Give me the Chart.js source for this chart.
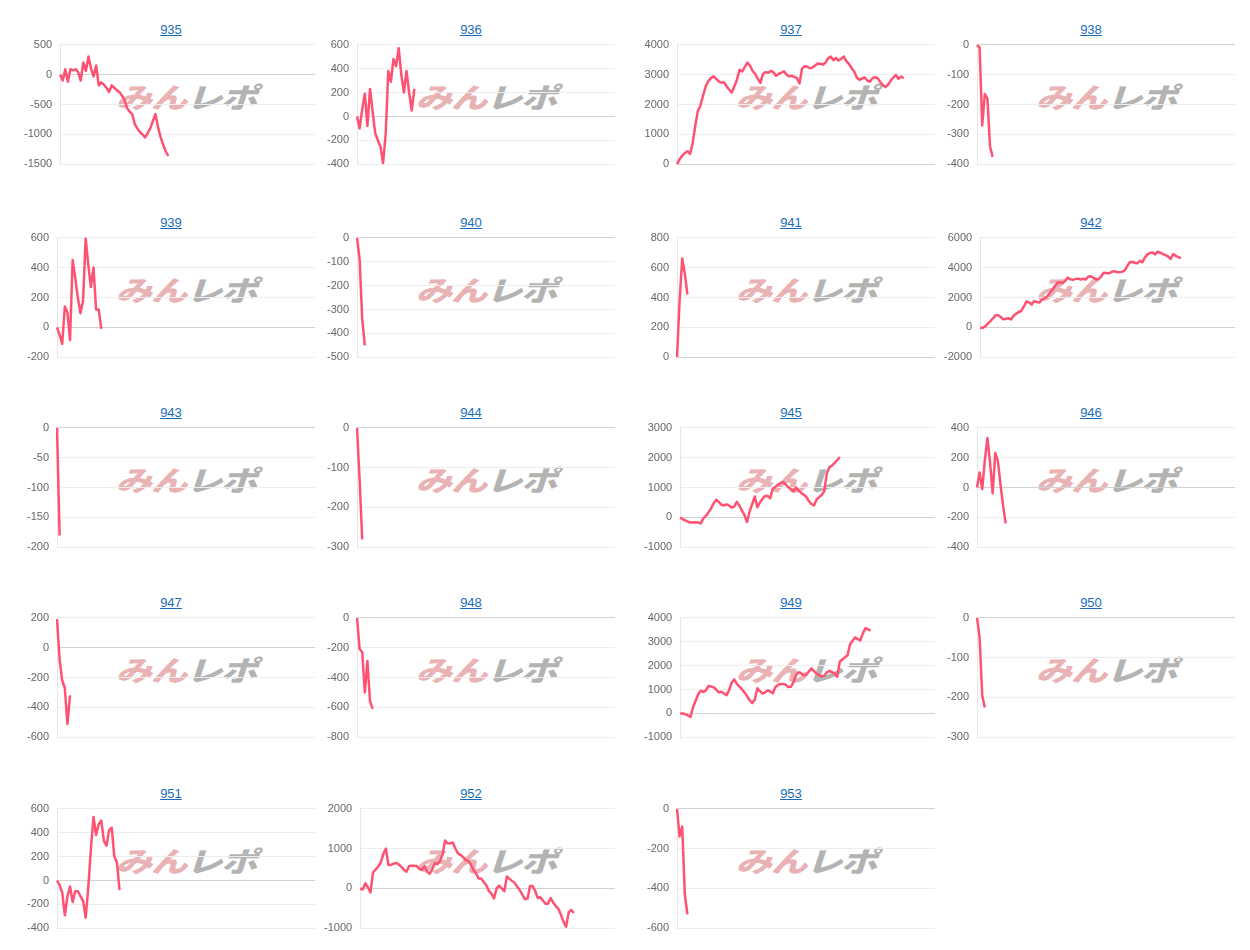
<!DOCTYPE html>
<html>
<head>
<meta charset="utf-8">
<script src="https://cdn.jsdelivr.net/npm/chart.js@4.4.1/dist/chart.umd.min.js"></script>
<style>
  html, body { margin: 0; padding: 0; background: #fff; }
  #board { position: relative; width: 1250px; height: 950px; overflow: hidden; }
  .panel-title { position: absolute; width: 120px; text-align: center; font: 13px "Liberation Sans", Arial, sans-serif; line-height: 15px; }
  .panel-title a { color: #1a6dbd; text-decoration: underline; }
  .mark { position: absolute; width: 160px; height: 30px; margin-left: -80px; margin-top: -15px; text-align: center;
          font: italic 900 28px "Noto Sans CJK JP", sans-serif; line-height: 30px; white-space: nowrap;
          transform: scaleX(1.3); letter-spacing: -1px; }
  .mark .a { color: #e9b2b4; }
  .mark .b { color: #b3b3b3; }
  canvas { position: absolute; }
</style>
</head>
<body>
<div id="board"></div>
<script>
const machineNumbers = ['935', '936', '937', '938', '939', '940', '941', '942', '943', '944',
                        '945', '946', '947', '948', '949', '950', '951', '952', '953'];

const m935 = [0, -100, 90, -120, 90, 70, 90, 40, -100, 200, 60, 300, 100, -30, 150, -180, -130, -170, -220, -290,
              -180, -220, -260, -290, -350, -420, -560, -620, -660, -830, -900, -960, -1000, -1050, -980, -900, -780, -660, -870, -1040,
              -1170, -1280, -1360];
const m936 = [0, -100, 60, 190, -80, 230, 40, -140, -200, -250, -390, -150, 380, 290, 480, 420, 570, 350, 200, 380, 200, 50, 230];
const m937 = [0, 170, 290, 380, 440, 350, 700, 1290, 1780, 1970, 2300, 2600, 2780, 2880, 2940, 2860, 2770, 2730, 2740, 2620,
              2500, 2400, 2600, 2830, 3160, 3100, 3250, 3400, 3300, 3120, 3020, 2860, 2720, 3020, 3080, 3060, 3120, 3080, 2960, 3020,
              3060, 3110, 3000, 2940, 2960, 2920, 2880, 2700, 3200, 3280, 3260, 3210, 3240, 3300, 3370, 3360, 3330, 3400, 3550, 3600,
              3480, 3550, 3470, 3530, 3600, 3450, 3350, 3220, 3100, 2900, 2820, 2870, 2900, 2800, 2760, 2880, 2910, 2880, 2750, 2650,
              2580, 2660, 2800, 2900, 2990, 2860, 2930, 2880];
const m938 = [0, -10, -270, -165, -180, -340, -375];
const m939 = [0, -50, -110, 140, 100, -85, 450, 330, 200, 95, 180, 595, 420, 270, 400, 120, 120, -10];
const m940 = [0, -90, -340, -450];
const m941 = [0, 380, 660, 560, 420];
const m942 = [0, -40, 80, 250, 420, 600, 820, 820, 700, 540, 580, 620, 530, 780, 920, 1030, 1100, 1400, 1740, 1660,
              1540, 1760, 1700, 1660, 1850, 1950, 2050, 2280, 2500, 2750, 2980, 3020, 2950, 3110, 3330, 3220, 3180, 3230, 3260, 3200,
              3250, 3200, 3400, 3420, 3330, 3200, 3230, 3400, 3650, 3640, 3610, 3700, 3760, 3700, 3680, 3710, 3780, 4050, 4340, 4390,
              4320, 4280, 4450, 4350, 4680, 4880, 4980, 5000, 4880, 5060, 4990, 4900, 4830, 4740, 4580, 4900, 4780, 4700, 4630];
const m943 = [0, -180];
const m944 = [0, -130, -280];
const m945 = [0, -60, -100, -140, -170, -170, -160, -170, -200, -30, 50, 170, 300, 470, 590, 520, 430, 400, 440, 400,
              330, 360, 520, 400, 230, 80, -150, 200, 450, 700, 340, 500, 620, 720, 720, 640, 960, 1020, 1100, 1150,
              1180, 1100, 1010, 950, 870, 1000, 900, 820, 760, 690, 550, 450, 400, 600, 680, 750, 880, 1480, 1680, 1730,
              1820, 1910, 2020];
const m946 = [0, 100, -10, 180, 330, 170, -40, 230, 180, 20, -120, -240];
const m947 = [190, -80, -220, -270, -510, -320];
const m948 = [0, -210, -230, -500, -290, -560, -610];
const m949 = [0, 0, -30, -80, -150, 250, 530, 800, 950, 900, 960, 1150, 1130, 1090, 1000, 880, 910, 830, 760, 960,
              1280, 1420, 1240, 1120, 1010, 880, 720, 550, 430, 580, 1050, 930, 830, 880, 960, 920, 840, 1100, 1190, 1230,
              1230, 1200, 1100, 1110, 1300, 1600, 1720, 1680, 1590, 1620, 1750, 1880, 1770, 1660, 1590, 1540, 1580, 1720, 1780, 1720,
              1670, 1530, 2160, 2250, 2340, 2430, 2890, 3030, 3180, 3100, 3050, 3350, 3560, 3510, 3460];
const m950 = [0, -50, -195, -225];
const m951 = [0, -40, -100, -290, -130, -50, -180, -90, -90, -130, -170, -310, -60, 260, 530, 380, 470, 500, 330, 290,
              420, 440, 200, 150, -80];
const m952 = [0, -25, 130, 30, -100, 400, 470, 550, 650, 860, 1000, 590, 590, 620, 640, 600, 540, 470, 420, 560,
              570, 570, 560, 490, 470, 560, 420, 370, 480, 630, 610, 680, 850, 1200, 1130, 1130, 1150, 1000, 880, 840,
              790, 710, 690, 600, 470, 380, 250, 250, 160, 80, -60, -130, -250, 0, 70, 0, -70, 300, 240, 190,
              140, 45, -40, -150, -270, -255, 60, 60, -60, -240, -220, -300, -380, -380, -240, -350, -440, -510, -660, -830,
              -960, -600, -540, -615];
const m953 = [0, -140, -90, -430, -530];

const yMin  = [-1500, -400, 0, -400, -200, -500, 0, -2000, -200, -300, -1000, -400, -600, -800, -1000, -300, -400, -1000, -600];
const yMax  = [500, 600, 4000, 0, 600, 0, 800, 6000, 0, 0, 3000, 400, 200, 0, 4000, 0, 600, 2000, 0];
const yStep = [500, 200, 1000, 100, 200, 100, 200, 2000, 50, 100, 1000, 200, 200, 200, 1000, 100, 200, 1000, 200];

// x axis: fixed number of slots, series only fill part of it
const xLabels = Array.from({ length: 100 }, (_, i) => String(i + 1));

const series = [m935, m936, m937, m938, m939, m940, m941, m942, m943, m944,
                m945, m946, m947, m948, m949, m950, m951, m952, m953];

const colLeft = [15, 315, 635, 935];
const rowPlotTop = [44, 237, 427, 617, 808];
const lineColor = '#ff5272';
const tickFont = { size: 11, family: '"Liberation Sans", Arial, sans-serif' };

const board = document.getElementById('board');

machineNumbers.forEach((num, i) => {
    const col = i % 4;
    const row = Math.floor(i / 4);
    const left = colLeft[col];
    const top = rowPlotTop[row];

    const title = document.createElement('div');
    title.className = 'panel-title';
    title.style.left = (left + 156 - 60) + 'px';
    title.style.top = (top - 22) + 'px';
    title.innerHTML = '<a href="#">' + num + '</a>';
    board.appendChild(title);

    const mark = document.createElement('div');
    mark.className = 'mark';
    mark.style.left = (left + 171) + 'px';
    mark.style.top = (top + 52) + 'px';
    mark.innerHTML = '<span class="a">みん</span><span class="b">レポ</span>';
    board.appendChild(mark);

    const canvas = document.createElement('canvas');
    canvas.width = 304;
    canvas.height = 149;
    canvas.style.left = left + 'px';
    canvas.style.top = (top - 14) + 'px';
    board.appendChild(canvas);

    new Chart(canvas, {
        type: 'line',
        data: {
            labels: xLabels,
            datasets: [{
                data: series[i],
                borderColor: lineColor,
                borderWidth: 2.5,
                borderJoinStyle: 'round',
                pointRadius: 0,
                tension: 0,
                fill: false
            }]
        },
        options: {
            responsive: false,
            animation: false,
            events: [],
            layout: { padding: { top: 12, bottom: 12, left: 0, right: 4 } },
            plugins: { legend: { display: false }, title: { display: false }, tooltip: { enabled: false } },
            scales: {
                x: { display: false },
                y: {
                    min: yMin[i],
                    max: yMax[i],
                    border: { display: true, color: '#e6e6e6' },
                    grid: {
                        drawTicks: false,
                        color: c => (c.tick && c.tick.value === 0) ? '#d2d2d2' : '#ededed'
                    },
                    ticks: { stepSize: yStep[i], padding: 8, color: '#666', font: tickFont, callback: v => String(v) },
                    afterFit: s => { s.width = Math.max(42, s.width + 1); }
                }
            }
        }
    });
});
</script>
</body>
</html>
